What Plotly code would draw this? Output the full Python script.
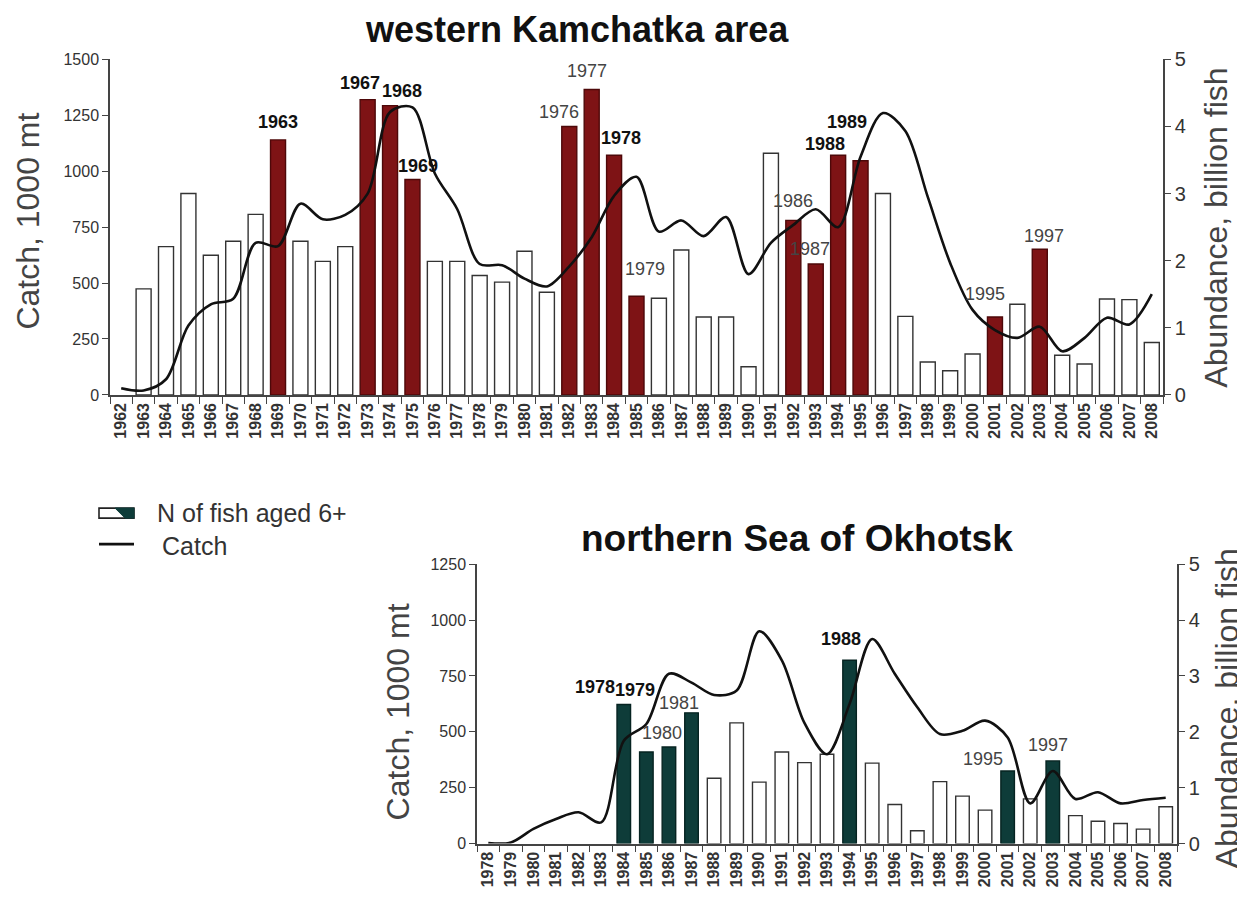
import plotly.graph_objects as go

W, H = 1245, 900

# ---------------- data: western Kamchatka ----------------
years_top = [1962, 1963, 1964, 1965, 1966, 1967, 1968, 1969, 1970, 1971, 1972, 1973,
             1974, 1975, 1976, 1977, 1978, 1979, 1980, 1981, 1982, 1983, 1984, 1985,
             1986, 1987, 1988, 1989, 1990, 1991, 1992, 1993, 1994, 1995, 1996, 1997,
             1998, 1999, 2000, 2001, 2002, 2003, 2004, 2005, 2006, 2007, 2008]
abund_top = [None, 1.58, 2.21, 3.0, 2.08, 2.29, 2.69, 3.8, 2.29, 1.99, 2.21, 4.4,
             4.31, 3.21, 1.99, 1.99, 1.78, 1.68, 2.14, 1.53, 4.0, 4.55, 3.57, 1.47,
             1.44, 2.16, 1.16, 1.16, 0.42, 3.6, 2.6, 1.95, 3.57, 3.49, 3.0, 1.17,
             0.49, 0.36, 0.61, 1.16, 1.35, 2.17, 0.59, 0.46, 1.43, 1.42, 0.78]
catch_top = [30, 20, 70, 310, 405, 430, 680, 665, 855, 785, 805, 900,
             1265, 1285, 990, 830, 585, 580, 520, 485, 575, 705, 890, 975,
             730, 780, 710, 795, 540, 680, 760, 830, 750, 1065, 1260, 1180,
             885, 590, 380, 290, 255, 305, 195, 255, 345, 315, 450]
red_years_top = [1969, 1973, 1974, 1975, 1982, 1983, 1984, 1985, 1992, 1993, 1994, 1995, 2001, 2003]
label_top_text = ["1963", "1967", "1968", "1969", "1976", "1977", "1978", "1979",
                  "1986", "1987", "1988", "1989", "1995", "1997"]
label_top_bold = [True, True, True, True, False, False, True, False,
                  False, False, True, True, False, False]

# ---------------- data: northern Sea of Okhotsk ----------------
years_bot = [1978, 1979, 1980, 1981, 1982, 1983, 1984, 1985, 1986, 1987, 1988, 1989,
             1990, 1991, 1992, 1993, 1994, 1995, 1996, 1997, 1998, 1999, 2000, 2001,
             2002, 2003, 2004, 2005, 2006, 2007, 2008]
abund_bot = [None, None, None, None, None, None, 2.49, 1.64, 1.73, 2.34, 1.17, 2.16,
             1.10, 1.64, 1.45, 1.6, 3.28, 1.44, 0.70, 0.23, 1.11, 0.85, 0.60, 1.30,
             0.8, 1.48, 0.50, 0.40, 0.36, 0.26, 0.66]
catch_bot = [3, 5, 66, 110, 140, 95, 460, 535, 760, 720, 665, 685,
             950, 820, 540, 400, 625, 915, 760, 610, 490, 505, 550, 475,
             180, 325, 200, 230, 180, 195, 205]
teal_years_bot = [1984, 1985, 1986, 1987, 1994, 2001, 2003]
label_bot_text = ["1978", "1979", "1980", "1981", "1988", "1995", "1997"]
label_bot_bold = [True, True, False, False, True, False, False]

# ---------------- styling / placement (not data) ----------------
label_top_dx = [0, -8, 12, 6, -10, -5, 7, 8, 0, -6, -13, -14, -10, 4]
label_top_dy = [18, 17, 15, 13, 14, 19, 17, 27, 19, 15, 11, 39, 23, 13]
label_bot_dx = [-29, -11, -7, -13, -9, -25, -5]
label_bot_dy = [17, 62, 14, 10, 21, 12, 16]

FONT = "Liberation Sans, Arial, sans-serif"
RED, RED_EDGE = "#7e1315", "#4d0809"
TEAL, TEAL_EDGE = "#0e3c39", "#062321"
AXC = "#444444"

# screen-pixel -> paper helpers (with a small calibration for the page offset)
DX, SY, DY = 8.0, 0.974, 19.7


def X(px):
    return (px - DX) / W


def Y(py):
    return 1 - ((py - DY) / SY) / H


cat_top = [str(y) for y in years_top]
cat_bot = [str(y) for y in years_bot]

fig = go.Figure()

# --- top chart ---
fig.add_trace(go.Bar(
    x=cat_top, y=abund_top, xaxis="x", yaxis="y", width=0.67,
    marker=dict(color=[RED if y in red_years_top else "white" for y in years_top],
                line=dict(color=[RED_EDGE if y in red_years_top else "#333333" for y in years_top],
                          width=1.4)),
    showlegend=False, hoverinfo="x+y"))
fig.add_trace(go.Scatter(
    x=cat_top, y=catch_top, xaxis="x", yaxis="y2", mode="lines",
    line=dict(color="#111111", width=2.6, shape="spline", smoothing=0.9),
    showlegend=False))

# --- bottom chart ---
fig.add_trace(go.Bar(
    x=cat_bot, y=abund_bot, xaxis="x2", yaxis="y3", width=0.6,
    marker=dict(color=[TEAL if y in teal_years_bot else "white" for y in years_bot],
                line=dict(color=[TEAL_EDGE if y in teal_years_bot else "#333333" for y in years_bot],
                          width=1.4)),
    showlegend=False, hoverinfo="x+y"))
fig.add_trace(go.Scatter(
    x=cat_bot, y=catch_bot, xaxis="x2", yaxis="y4", mode="lines",
    line=dict(color="#111111", width=2.6, shape="spline", smoothing=0.9),
    showlegend=False))

xcommon = dict(type="category", tickangle=-90, ticks="outside", tickson="boundaries",
               ticklen=7, tickwidth=1.3, tickcolor=AXC, showline=True, linecolor=AXC,
               linewidth=1.5, showgrid=False, zeroline=False,
               tickfont=dict(family=FONT, size=16, color="#333333", weight="bold"))
ycommon = dict(ticks="outside", ticklen=6, tickwidth=1.3, tickcolor=AXC, showline=True,
               linecolor=AXC, linewidth=1.5, showgrid=False, zeroline=False)

fig.update_layout(
    width=W, height=H,
    margin=dict(l=0, r=0, t=0, b=0),
    paper_bgcolor="white", plot_bgcolor="rgba(0,0,0,0)",
    xaxis=dict(xcommon, domain=[X(110), X(1163)], anchor="y",
               categoryorder="array", categoryarray=cat_top,
               range=[-0.5, len(cat_top) - 0.5]),
    yaxis=dict(ycommon, domain=[Y(395), Y(60)], anchor="x", side="right",
               range=[0, 5], dtick=1, tickfont=dict(family=FONT, size=20, color="#333333")),
    yaxis2=dict(ycommon, overlaying="y", anchor="x", side="left",
                range=[0, 1500], dtick=250, tickformat="d",
                tickfont=dict(family=FONT, size=16, color="#333333")),
    xaxis2=dict(xcommon, domain=[X(477), X(1177)], anchor="y3",
                categoryorder="array", categoryarray=cat_bot,
                range=[-0.5, len(cat_bot) - 0.5]),
    yaxis3=dict(ycommon, domain=[Y(843), Y(564)], anchor="x2", side="right",
                range=[0, 5], dtick=1, tickfont=dict(family=FONT, size=20, color="#333333")),
    yaxis4=dict(ycommon, overlaying="y3", anchor="x2", side="left",
                range=[0, 1250], dtick=250, tickformat="d",
                tickfont=dict(family=FONT, size=16, color="#333333")),
)

ann = []


def paper_text(text, px, py, size, color, angle=0, xanchor="center"):
    return dict(text=text, x=X(px), y=Y(py), xref="paper", yref="paper",
                xanchor=xanchor, yanchor="middle", textangle=angle,
                showarrow=False, font=dict(family=FONT, size=size, color=color))


# titles
ann.append(paper_text("<b>western Kamchatka area</b>", 577, 30, 36, "#111111"))
ann.append(paper_text("<b>northern Sea of Okhotsk</b>", 797, 538, 37, "#111111"))
# axis titles
for txt, px, py in [("Catch, 1000 mt", 28, 222), ("Abundance, billion fish", 1216, 228),
                    ("Catch, 1000 mt", 398, 712), ("Abundance, billion fish", 1227, 708)]:
    ann.append(paper_text(txt, px, py, 32, "#444444", angle=-90))

# bar labels (x given as category index)
for yr, t, b, dx, dy in zip(red_years_top, label_top_text, label_top_bold, label_top_dx, label_top_dy):
    i = years_top.index(yr)
    ann.append(dict(text=f"<b>{t}</b>" if b else t, x=i, y=abund_top[i], xref="x", yref="y",
                    xanchor="center", yanchor="middle",
                    showarrow=False, xshift=dx, yshift=dy,
                    font=dict(family=FONT, size=18, color="#111111" if b else "#444444")))
for yr, t, b, dx, dy in zip(teal_years_bot, label_bot_text, label_bot_bold, label_bot_dx, label_bot_dy):
    i = years_bot.index(yr)
    ann.append(dict(text=f"<b>{t}</b>" if b else t, x=i, y=abund_bot[i], xref="x2", yref="y3",
                    xanchor="center", yanchor="middle",
                    showarrow=False, xshift=dx, yshift=dy,
                    font=dict(family=FONT, size=18, color="#111111" if b else "#444444")))

# legend
ann.append(paper_text("N of fish aged 6+", 155, 513, 25, "#333333", xanchor="left"))
ann.append(paper_text("Catch", 160, 546, 25, "#333333", xanchor="left"))
fig.update_layout(annotations=ann)

shapes = [
    dict(type="rect", xref="paper", yref="paper", x0=X(99), x1=X(134), y0=Y(518), y1=Y(508),
         fillcolor="white", line=dict(color="#222222", width=1.6)),
    dict(type="path", xref="paper", yref="paper",
         path=f"M {X(115)},{Y(508)} L {X(134)},{Y(508)} L {X(134)},{Y(518)} L {X(125)},{Y(518)} Z",
         fillcolor=TEAL, line=dict(color=TEAL, width=1)),
    dict(type="line", xref="paper", yref="paper", x0=X(99), x1=X(134), y0=Y(544), y1=Y(544),
         line=dict(color="#111111", width=2.6)),
]
fig.update_layout(shapes=shapes)

fig.write_html("out.html")
